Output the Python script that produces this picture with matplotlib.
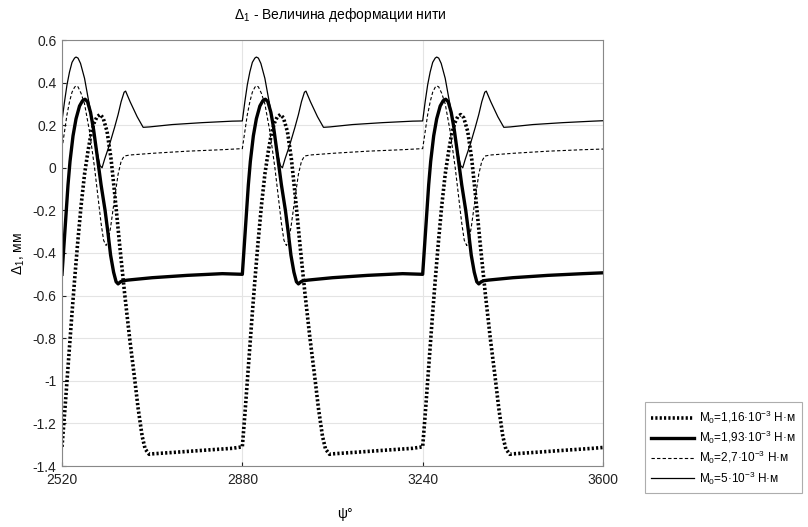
import matplotlib
matplotlib.use("Agg")
import matplotlib.pyplot as plt

plt.rcParams['font.family'] = ['Liberation Sans', 'DejaVu Sans']
plt.rcParams['mathtext.fontset'] = 'custom'
plt.rcParams['mathtext.rm'] = 'Liberation Sans'
plt.rcParams['mathtext.it'] = 'Liberation Sans:italic'

# ---- data ----
a_psi = [2520, 2525, 2530, 2535, 2540, 2545, 2551, 2558, 2565, 2572, 2578, 2584, 2590, 2596, 2602, 2610, 2618, 2626, 2635, 2645, 2655, 2665, 2672, 2680, 2686, 2694, 2700, 2750, 2810, 2860,
         2880, 2885, 2890, 2895, 2900, 2905, 2911, 2918, 2925, 2932, 2938, 2944, 2950, 2956, 2962, 2970, 2978, 2986, 2995, 3005, 3015, 3025, 3032, 3040, 3046, 3054, 3060, 3110, 3170, 3220,
         3240, 3245, 3250, 3255, 3260, 3265, 3271, 3278, 3285, 3292, 3298, 3304, 3310, 3316, 3322, 3330, 3338, 3346, 3355, 3365, 3375, 3385, 3392, 3400, 3406, 3414, 3420, 3470, 3530, 3580, 3600]
a_val = [-1.31, -1.16, -1.00, -0.84, -0.68, -0.53, -0.36, -0.18, -0.03, 0.08, 0.16, 0.21, 0.24, 0.25, 0.235, 0.17, 0.04, -0.14, -0.36, -0.59, -0.80, -0.99, -1.13, -1.26, -1.32, -1.345, -1.343, -1.335, -1.325, -1.317,
         -1.31, -1.16, -1.00, -0.84, -0.68, -0.53, -0.36, -0.18, -0.03, 0.08, 0.16, 0.21, 0.24, 0.25, 0.235, 0.17, 0.04, -0.14, -0.36, -0.59, -0.80, -0.99, -1.13, -1.26, -1.32, -1.345, -1.343, -1.335, -1.325, -1.317,
         -1.31, -1.16, -1.00, -0.84, -0.68, -0.53, -0.36, -0.18, -0.03, 0.08, 0.16, 0.21, 0.24, 0.25, 0.235, 0.17, 0.04, -0.14, -0.36, -0.59, -0.80, -0.99, -1.13, -1.26, -1.32, -1.345, -1.343, -1.335, -1.325, -1.317, -1.313]

b_psi = [2520, 2524, 2528, 2532, 2536, 2542, 2548, 2555, 2561, 2566, 2571, 2577, 2583, 2590, 2598, 2606, 2612, 2617, 2623, 2628, 2632, 2637, 2642, 2652, 2700, 2770, 2840,
         2880, 2884, 2888, 2892, 2896, 2902, 2908, 2915, 2921, 2926, 2931, 2937, 2943, 2950, 2958, 2966, 2972, 2977, 2983, 2988, 2992, 2997, 3002, 3012, 3060, 3130, 3200,
         3240, 3244, 3248, 3252, 3256, 3262, 3268, 3275, 3281, 3286, 3291, 3297, 3303, 3310, 3318, 3326, 3332, 3337, 3343, 3348, 3352, 3357, 3362, 3372, 3420, 3490, 3560, 3600]
b_val = [-0.50, -0.36, -0.22, -0.08, 0.03, 0.15, 0.23, 0.29, 0.315, 0.322, 0.31, 0.26, 0.18, 0.06, -0.08, -0.20, -0.31, -0.41, -0.49, -0.535, -0.545, -0.535, -0.53, -0.527, -0.516, -0.505, -0.497,
         -0.50, -0.36, -0.22, -0.08, 0.03, 0.15, 0.23, 0.29, 0.315, 0.322, 0.31, 0.26, 0.18, 0.06, -0.08, -0.20, -0.31, -0.41, -0.49, -0.535, -0.545, -0.535, -0.53, -0.527, -0.516, -0.505, -0.497,
         -0.50, -0.36, -0.22, -0.08, 0.03, 0.15, 0.23, 0.29, 0.315, 0.322, 0.31, 0.26, 0.18, 0.06, -0.08, -0.20, -0.31, -0.41, -0.49, -0.535, -0.545, -0.535, -0.53, -0.527, -0.516, -0.505, -0.497, -0.493]

c_psi = [2520, 2525, 2530, 2535, 2540, 2545, 2548, 2552, 2558, 2565, 2575, 2585, 2592, 2598, 2603, 2608, 2612, 2617, 2624, 2632, 2638, 2644, 2655, 2700, 2770, 2840,
         2880, 2885, 2890, 2895, 2900, 2905, 2908, 2912, 2918, 2925, 2935, 2945, 2952, 2958, 2963, 2968, 2972, 2977, 2984, 2992, 2998, 3004, 3015, 3060, 3130, 3200,
         3240, 3245, 3250, 3255, 3260, 3265, 3268, 3272, 3278, 3285, 3295, 3305, 3312, 3318, 3323, 3328, 3332, 3337, 3344, 3352, 3358, 3364, 3375, 3420, 3490, 3560, 3600]
c_val = [0.09, 0.17, 0.25, 0.31, 0.355, 0.378, 0.385, 0.38, 0.35, 0.30, 0.17, 0.0, -0.14, -0.26, -0.34, -0.365, -0.345, -0.28, -0.16, -0.03, 0.03, 0.055, 0.06, 0.068, 0.078, 0.085,
         0.09, 0.17, 0.25, 0.31, 0.355, 0.378, 0.385, 0.38, 0.35, 0.30, 0.17, 0.0, -0.14, -0.26, -0.34, -0.365, -0.345, -0.28, -0.16, -0.03, 0.03, 0.055, 0.06, 0.068, 0.078, 0.085,
         0.09, 0.17, 0.25, 0.31, 0.355, 0.378, 0.385, 0.38, 0.35, 0.30, 0.17, 0.0, -0.14, -0.26, -0.34, -0.365, -0.345, -0.28, -0.16, -0.03, 0.03, 0.055, 0.06, 0.068, 0.078, 0.085, 0.088]

d_psi = [2520, 2525, 2530, 2535, 2540, 2545, 2548, 2552, 2557, 2565, 2575, 2585, 2592, 2596, 2600, 2605, 2615, 2625, 2632, 2638, 2644, 2647, 2656, 2670, 2682, 2695, 2740, 2800, 2860,
         2880, 2885, 2890, 2895, 2900, 2905, 2908, 2912, 2917, 2925, 2935, 2945, 2952, 2956, 2960, 2965, 2975, 2985, 2992, 2998, 3004, 3007, 3016, 3030, 3042, 3055, 3100, 3160, 3220,
         3240, 3245, 3250, 3255, 3260, 3265, 3268, 3272, 3277, 3285, 3295, 3305, 3312, 3316, 3320, 3325, 3335, 3345, 3352, 3358, 3364, 3367, 3376, 3390, 3402, 3415, 3460, 3520, 3580, 3600]
d_val = [0.22, 0.31, 0.39, 0.45, 0.495, 0.515, 0.52, 0.515, 0.49, 0.42, 0.29, 0.14, 0.05, 0.01, 0.0, 0.04, 0.11, 0.19, 0.25, 0.31, 0.355, 0.36, 0.31, 0.24, 0.19, 0.192, 0.203, 0.212, 0.219,
         0.22, 0.31, 0.39, 0.45, 0.495, 0.515, 0.52, 0.515, 0.49, 0.42, 0.29, 0.14, 0.05, 0.01, 0.0, 0.04, 0.11, 0.19, 0.25, 0.31, 0.355, 0.36, 0.31, 0.24, 0.19, 0.192, 0.203, 0.212, 0.219,
         0.22, 0.31, 0.39, 0.45, 0.495, 0.515, 0.52, 0.515, 0.49, 0.42, 0.29, 0.14, 0.05, 0.01, 0.0, 0.04, 0.11, 0.19, 0.25, 0.31, 0.355, 0.36, 0.31, 0.24, 0.19, 0.192, 0.203, 0.212, 0.219, 0.221]

labels = [r'M$_0$=1,16·10$^{-3}$ Н·м',
          r'M$_0$=1,93·10$^{-3}$ Н·м',
          r'M$_0$=2,7·10$^{-3}$ Н·м',
          r'M$_0$=5·10$^{-3}$ Н·м']
x_ticks = [2520, 2880, 3240, 3600]
y_ticks = [0.6, 0.4, 0.2, 0, -0.2, -0.4, -0.6, -0.8, -1, -1.2, -1.4]
y_ticklabels = ['0.6', '0.4', '0.2', '0', '-0.2', '-0.4', '-0.6', '-0.8', '-1', '-1.2', '-1.4']

# ---- figure ----
fig = plt.figure(figsize=(8.08, 5.27), dpi=100)
ax = fig.add_axes([62/808, 1-466/527, (603-62)/808, (466-40)/527])

ax.plot(a_psi, a_val, color='black', lw=2.6, linestyle=(0, (0.6, 0.6)), dash_capstyle='butt', label=labels[0])
ax.plot(b_psi, b_val, color='black', lw=2.4, label=labels[1])
ax.plot(c_psi, c_val, color='black', lw=0.8, linestyle=(0, (3, 2)), label=labels[2])
ax.plot(d_psi, d_val, color='black', lw=0.9, label=labels[3])

ax.set_xlim(2520, 3600)
ax.set_ylim(-1.4, 0.6)
ax.set_xticks(x_ticks)
ax.set_yticks(y_ticks)
ax.set_yticklabels(y_ticklabels)
ax.tick_params(direction='in', length=3, labelsize=10, colors='#222222')
ax.tick_params(axis='x', pad=5)
ax.tick_params(axis='y', pad=4)
ax.grid(True, color='#e4e4e4', lw=0.8)
for s in ax.spines.values():
    s.set_color('#888888')
    s.set_linewidth(0.8)

ax.set_title(r'$\Delta_1$ - Величина деформации нити', fontsize=10, pad=15, x=(340-62)/541)
ax.set_ylabel(r'$\Delta_1$, мм', fontsize=10)
ax.yaxis.set_label_coords((27-62)/541, 0.5)
ax.set_xlabel('ψ°', fontsize=10)
ax.xaxis.set_label_coords((345-62)/541, -(507-466)/426)

leg = fig.legend(loc='lower left', bbox_to_anchor=(645/808, 1-493/527), fontsize=8.5,
                 frameon=True, fancybox=False, handlelength=3.6, borderpad=0.55,
                 labelspacing=0.25, handletextpad=0.4, borderaxespad=0)
leg.get_frame().set_edgecolor('#999999')
leg.get_frame().set_linewidth(0.8)

fig.savefig('out.png', dpi=100)
